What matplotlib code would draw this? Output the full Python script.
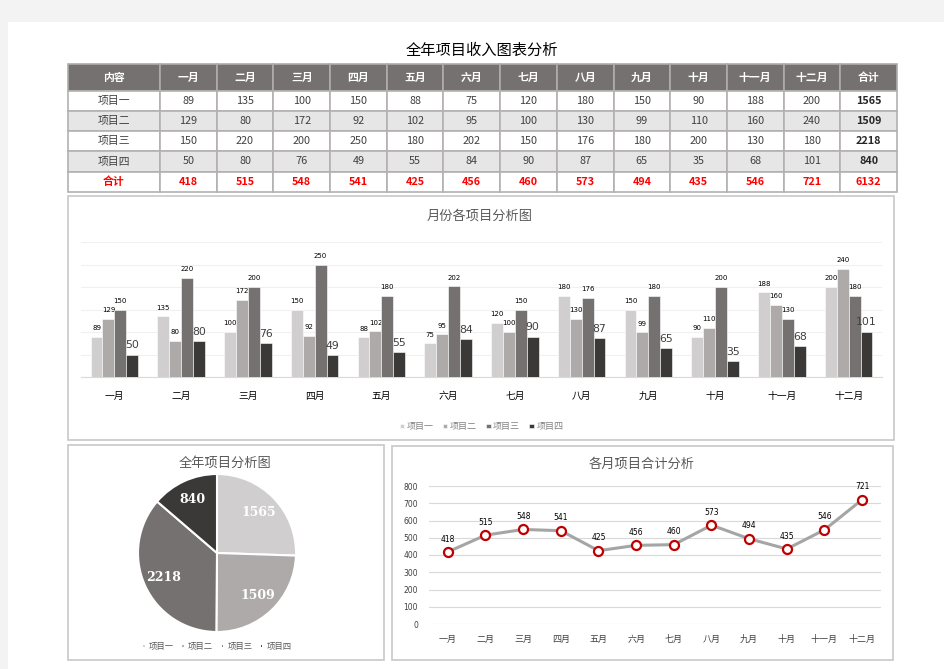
import numpy as np
import matplotlib.pyplot as plt
from matplotlib.patches import Rectangle

plt.rcParams['font.family'] = ['Noto Sans CJK SC', 'DejaVu Sans']

months = ['一月', '二月', '三月', '四月', '五月', '六月',
          '七月', '八月', '九月', '十月', '十一月', '十二月']
items = ['项目一', '项目二', '项目三', '项目四']
p1 = [89, 135, 100, 150, 88, 75, 120, 180, 150, 90, 188, 200]
p2 = [129, 80, 172, 92, 102, 95, 100, 130, 99, 110, 160, 240]
p3 = [150, 220, 200, 250, 180, 202, 150, 176, 180, 200, 130, 180]
p4 = [50, 80, 76, 49, 55, 84, 90, 87, 65, 35, 68, 101]

series = [p1, p2, p3, p4]
row_totals = [sum(s) for s in series]
month_totals = [sum(v) for v in zip(*series)]
grand_total = sum(row_totals)

colors = ['#d0cece', '#aeaaaa', '#767171', '#3b3838']

W, H = 945, 669
fig = plt.figure(figsize=(W / 100, H / 100), dpi=100)
fig.patch.set_facecolor('#f3f3f3')


def px_axes(x0, y0, x1, y1):
    return fig.add_axes([x0 / W, 1 - y1 / H, (x1 - x0) / W, (y1 - y0) / H])


# page / overlay in pixel coordinates
bg = fig.add_axes([0, 0, 1, 1], zorder=0)
bg.set_xlim(0, W)
bg.set_ylim(H, 0)
bg.axis('off')
bg.add_patch(Rectangle((8, 22), W - 8, H - 22, facecolor='white', edgecolor='none'))

# ---- table ----
bg.text(482, 50, '全年项目收入图表分析', ha='center', va='center', fontsize=11, color='black')
col_x = [68, 160] + list(np.linspace(160, 897, 14)[1:])
row_y = [64, 91, 111, 131, 151, 172, 192]
header = ['内容'] + months + ['合计']
rows = [[items[i]] + series[i] + [row_totals[i]] for i in range(4)]
rows.append(['合计'] + month_totals + [grand_total])

for c in range(len(header)):
    x0, x1 = col_x[c], col_x[c + 1]
    bg.add_patch(Rectangle((x0, row_y[0]), x1 - x0, row_y[1] - row_y[0],
                           facecolor='#767171', edgecolor='#b0acac', lw=1.2))
    bg.text((x0 + x1) / 2, (row_y[0] + row_y[1]) / 2, header[c], ha='center', va='center',
            fontsize=7.8, color='white', fontweight='bold')
    for r, row in enumerate(rows):
        y0, y1 = row_y[r + 1], row_y[r + 2]
        fc = '#e7e6e6' if r in (1, 3) else 'white'
        bg.add_patch(Rectangle((x0, y0), x1 - x0, y1 - y0, facecolor=fc,
                               edgecolor='#b4b0b0', lw=1.2))
        if r == 4:
            color, weight = '#ff0000', 'bold'
        elif c == len(header) - 1:
            color, weight = '#262626', 'bold'
        else:
            color, weight = '#404040', 'normal'
        bg.text((x0 + x1) / 2, (y0 + y1) / 2, str(row[c]), ha='center', va='center',
                fontsize=7.8, color=color, fontweight=weight)

# panel borders
for (x0, y0, x1, y1) in [(68, 196, 894, 440), (68, 445, 384, 660), (392, 446, 893, 660)]:
    bg.add_patch(Rectangle((x0, y0), x1 - x0, y1 - y0, facecolor='white',
                           edgecolor='#c8c8c8', lw=1.2))

bg.text(480, 216, '月份各项目分析图', ha='center', va='center', fontsize=9.5, color='#595959')
bg.text(225, 463, '全年项目分析图', ha='center', va='center', fontsize=9.5, color='#595959')
bg.text(642, 464, '各月项目合计分析', ha='center', va='center', fontsize=9.5, color='#595959')

# ---- bar chart ----
ax = px_axes(81, 242, 882, 377)
ax.patch.set_alpha(0)
x = np.arange(len(months))
bw = 0.178
for k, (s, c) in enumerate(zip(series, colors)):
    pos = x + (k - 1.5) * bw
    ax.bar(pos, s, width=bw, color=c, edgecolor='white', lw=0.4, label=items[k], zorder=3)
    for xi, v in zip(pos, s):
        if k == 3:
            ax.annotate(str(v), (xi, v), xytext=(0, 3), textcoords='offset points',
                        ha='center', va='bottom', fontsize=7.8, color='#404040',
                        family='DejaVu Sans')
        else:
            ax.annotate(str(v), (xi, v), xytext=(0, 4), textcoords='offset points',
                        ha='center', va='bottom', fontsize=5, color='black',
                        family='DejaVu Sans')
ax.set_xlim(-0.5, 11.5)
ax.set_ylim(0, 300)
ax.set_yticks(range(0, 301, 50))
ax.yaxis.grid(True, color='#f0f0f0', lw=0.8, zorder=0)
ax.set_yticklabels([])
ax.tick_params(axis='y', length=0)
ax.set_xticks(x)
ax.set_xticklabels(months, fontsize=7, color='black')
ax.tick_params(axis='x', length=0, pad=10)
for sp in ['top', 'right', 'left']:
    ax.spines[sp].set_visible(False)
ax.spines['bottom'].set_color('#d9d9d9')
ax.legend(loc='center', bbox_to_anchor=(0.5, -0.37), ncol=4, frameon=False,
          fontsize=6.5, labelcolor='#808080', handlelength=0.5, handleheight=0.35,
          handletextpad=0.3, columnspacing=1.0)

# ---- pie chart ----
pax = px_axes(138, 474, 296, 632)
wedges, texts = pax.pie(row_totals, colors=colors, startangle=90, counterclock=False,
                        labels=[str(v) for v in row_totals], labeldistance=0.74,
                        wedgeprops=dict(edgecolor='white', lw=1.5),
                        textprops=dict(color='white', fontsize=9, fontweight='bold',
                                       family='DejaVu Serif'))
for t in texts:
    t.set_ha('center')
    t.set_va('center')
pax.set_xlim(-1, 1)
pax.set_ylim(-1, 1)
pax.legend(wedges, items, loc='center', bbox_to_anchor=(0.5, -0.09), ncol=4, frameon=False,
           fontsize=6, labelcolor='#595959', handlelength=0.4, handleheight=0.3,
           handletextpad=0.4, columnspacing=0.9)

# ---- line chart ----
lax = px_axes(429, 486, 881, 624)
lax.patch.set_alpha(0)
lax.plot(x, month_totals, color='#a5a5a5', lw=2.2, marker='o', ms=6.5,
         mfc='white', mec='#c00000', mew=1.6, zorder=3)
for xi, v in zip(x, month_totals):
    lax.annotate(str(v), (xi, v), xytext=(0, 6), textcoords='offset points',
                 ha='center', va='bottom', fontsize=5.5, color='black',
                 family='DejaVu Sans')
lax.set_xlim(-0.5, 11.5)
lax.set_ylim(0, 800)
lax.set_yticks(range(0, 801, 100))
lax.yaxis.grid(True, color='#d9d9d9', lw=0.8, zorder=0)
lax.tick_params(axis='y', length=0, labelsize=5.5, labelcolor='#404040', pad=8)
for lbl in lax.get_yticklabels():
    lbl.set_family('DejaVu Sans')
lax.set_xticks(x)
lax.set_xticklabels(months, fontsize=6.5, color='#404040')
lax.tick_params(axis='x', length=0, pad=8)
for sp in ['top', 'right', 'left', 'bottom']:
    lax.spines[sp].set_visible(False)

fig.savefig('out.png', dpi=100, facecolor=fig.get_facecolor())
